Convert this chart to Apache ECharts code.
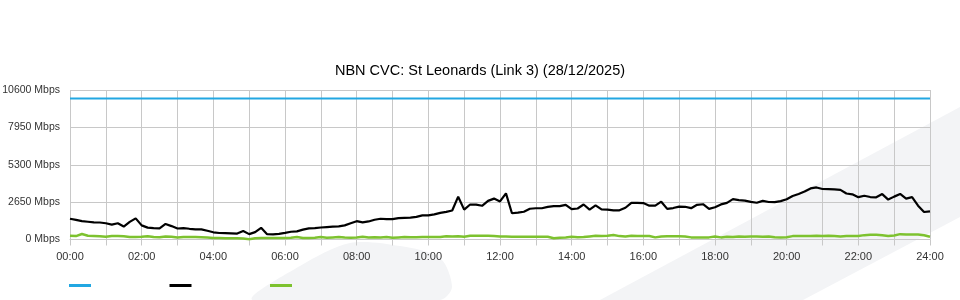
<!DOCTYPE html>
<html>
<head>
<meta charset="utf-8">
<script src="https://cdn.jsdelivr.net/npm/echarts@6/dist/echarts.min.js"></script>
<style>
html,body{margin:0;padding:0;background:#fff;}
#chart{width:960px;height:300px;}
</style>
</head>
<body>
<div id="chart"></div>
<script>
const titleText = 'NBN CVC: St Leonards (Link 3) (28/12/2025)';
const tickLabels = ['00:00','02:00','04:00','06:00','08:00','10:00','12:00','14:00','16:00','18:00','20:00','22:00','24:00'];
const yTicks = [0, 2650, 5300, 7950, 10600];
const sampleMinutes = 10;
const capacity = [10000, 10000];
const capacityTimes = [0, 1440];
const inbound = [
  1470,1390,1300,1260,1220,1205,1150,1060,1150,920,1250,1500,1000,840,800,790,1100,950,780,810,760,723,720,620,
  510,460,458,440,420,600,380,520,830,380,362,400,470,550,580,700,790,800,850,880,910,930,1000,1150,
  1300,1210,1280,1400,1470,1440,1450,1520,1540,1550,1600,1711,1711,1780,1890,1960,2060,3036,2120,2480,2470,2390,2740,2900,
  2700,3270,1860,1900,1970,2180,2217,2217,2314,2360,2362,2460,2150,2200,2480,2120,2420,2130,2120,2060,2070,2250,2600,2600,
  2580,2400,2400,2680,2170,2230,2330,2320,2220,2460,2500,2170,2290,2490,2600,2860,2796,2760,2670,2603,2740,2660,2651,2720,
  2850,3080,3230,3400,3620,3690,3580,3567,3550,3519,3260,3205,3000,3100,3010,2990,3220,2830,3040,3230,2900,3000,2400,1950,
  2000
];
const outbound = [
  260,240,390,270,250,230,200,
  240,250,230,180,180,200,
  230,170,160,220,190,150,
  180,170,170,160,150,110,
  100,90,90,80,70,20,
  90,100,100,100,110,100,
  120,180,110,110,120,170,
  120,150,180,150,130,140,
  200,140,160,150,180,130,
  150,170,160,160,170,180,
  170,180,230,210,230,190,
  260,270,270,260,240,220,
  210,200,200,200,200,190,
  200,190,90,130,150,190,
  160,180,220,260,250,260,
  320,240,220,260,250,250,
  250,150,220,230,230,230,
  220,150,140,140,150,210,
  150,200,170,220,200,210,
  220,190,210,160,150,160,
  240,240,250,250,270,240,
  260,240,220,250,250,250,
  310,330,330,300,250,290,
  380,350,350,350,300,200
];

const toPairs = arr => arr.map((v, i) => [i * sampleMinutes, v]);
const chart = echarts.init(document.getElementById('chart'), null, {renderer: 'canvas'});
const wm = '#f3f4f6';
chart.setOption({
  backgroundColor: '#fff',
  animation: false,
  graphic: [
    {type: 'polygon', z: -10, silent: true, shape: {points: [[600,300],[960,107],[960,217],[803,300]]}, style: {fill: wm}},
    {type: 'polygon', z: -10, silent: true, shape: {smooth: 0.3, points: [[253,300],[300,266],[350,243],[400,246],[440,258],[452,287],[440,300]]}, style: {fill: wm}}
  ],
  title: {
    text: titleText, left: 'center', top: 58,
    textStyle: {fontFamily: 'Liberation Sans, Arial', fontSize: 14.5, fontWeight: 'normal', color: '#000'}
  },
  legend: {
    left: 64, top: 279, itemWidth: 22, itemHeight: 3, itemGap: 78.5, icon: 'rect',
    formatter: () => '',
    data: ['Capacity', 'Inbound', 'Outbound']
  },
  grid: {left: 70, right: 30, top: 90, bottom: 60.5, containLabel: false, outerBoundsMode: 'none'},
  xAxis: {
    type: 'value', min: 0, max: 1440, interval: 60,
    axisLine: {show: true, lineStyle: {color: '#c8c8c8'}},
    axisTick: {show: true, length: 6, lineStyle: {color: '#c8c8c8'}},
    splitLine: {show: true, lineStyle: {color: '#c8c8c8', width: 1}},
    axisLabel: {
      margin: 12, color: '#333', fontSize: 11, fontFamily: 'Liberation Sans, Arial',
      formatter: v => (v % 120 === 0 ? tickLabels[v / 120] : '')
    }
  },
  yAxis: {
    type: 'value', min: 0, max: 10600, interval: 2650,
    axisLine: {show: false},
    axisTick: {show: false},
    splitLine: {show: true, lineStyle: {color: '#c8c8c8', width: 1}},
    axisLabel: {
      margin: 10, color: '#333', fontSize: 10.5, fontFamily: 'Liberation Sans, Arial',
      formatter: v => (yTicks.indexOf(v) >= 0 ? v + ' Mbps' : '')
    }
  },
  series: [
    {name: 'Capacity', type: 'line', showSymbol: false, color: '#22a7e2', lineStyle: {width: 2},
     data: capacity.map((v, i) => [capacityTimes[i], v])},
    {name: 'Inbound', type: 'line', showSymbol: false, color: '#000000', lineStyle: {width: 2.2},
     data: toPairs(inbound)},
    {name: 'Outbound', type: 'line', showSymbol: false, color: '#7dc22f', lineStyle: {width: 2.5},
     data: toPairs(outbound)}
  ]
});
</script>
</body>
</html>
